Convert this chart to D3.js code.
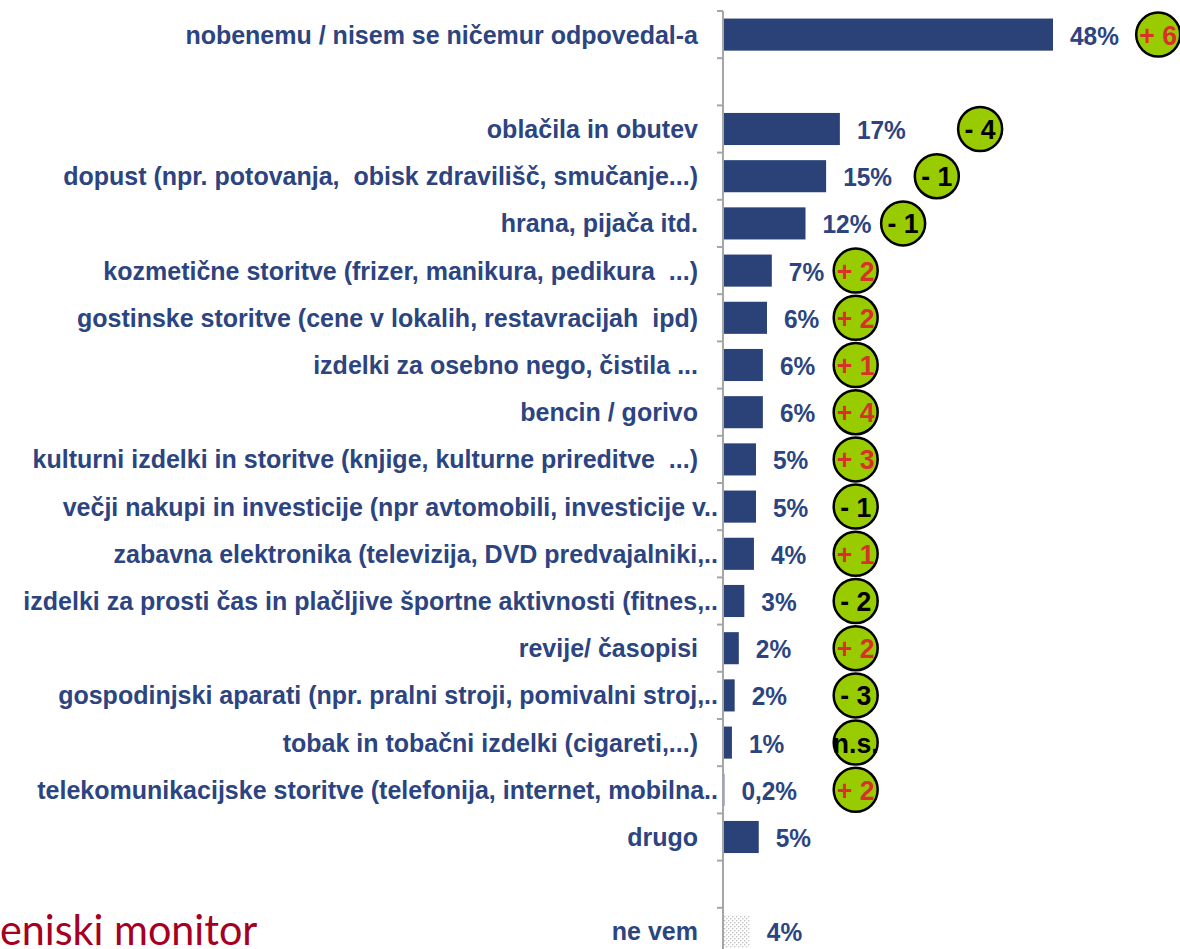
<!DOCTYPE html>
<html>
<head>
<meta charset="utf-8">
<script src="https://cdn.jsdelivr.net/npm/d3@7"></script>
<style>
html,body{margin:0;padding:0;background:#fff;overflow:hidden}
svg{display:block}
</style>
</head>
<body>
<svg id="chart" width="1180" height="949"></svg>
<script>
// rows top to bottom, empty strings are spacer rows
const categories=["nobenemu / nisem se ničemur odpovedal-a","","oblačila in obutev","dopust (npr. potovanja,  obisk zdravilišč, smučanje...)","hrana, pijača itd.","kozmetične storitve (frizer, manikura, pedikura  ...)","gostinske storitve (cene v lokalih, restavracijah  ipd)","izdelki za osebno nego, čistila ...","bencin / gorivo","kulturni izdelki in storitve (knjige, kulturne prireditve  ...)","večji nakupi in investicije (npr avtomobili, investicije v..","zabavna elektronika (televizija, DVD predvajalniki,..","izdelki za prosti čas in plačljive športne aktivnosti (fitnes,..","revije/ časopisi","gospodinjski aparati (npr. pralni stroji, pomivalni stroj,..","tobak in tobačni izdelki (cigareti,...)","telekomunikacijske storitve (telefonija, internet, mobilna..","drugo","","ne vem"];
const values=[48,null,17,15,12,7.1,6.4,5.8,5.8,4.8,4.8,4.5,3.1,2.3,1.7,1.3,0.2,5.2,null,3.9];
const valueLabels=["48%","","17%","15%","12%","7%","6%","6%","6%","5%","5%","4%","3%","2%","2%","1%","0,2%","5%","","4%"];
const changes=["+ 6",null,"- 4","- 1","- 1","+ 2","+ 2","+ 1","+ 4","+ 3","- 1","+ 1","- 2","+ 2","- 3","n.s.","+ 2",null,null,null];
// where the change bubble sits, in % units of the value axis
const changeAt=[63.3,null,37.4,31.1,26.2,19.3,19.3,19.3,19.3,19.3,19.3,19.3,19.3,19.3,19.3,19.3,19.3,null,null,null];
const noAnswer=19; // "ne vem" row drawn with a dotted fill

const svg=d3.select('#chart');
const FONT='"Liberation Sans", Arial, sans-serif';
const BLUE='#2b4279',TXT='#2c4480';

const x=d3.scaleLinear().domain([0,48]).range([723,1053]);
const y=d3.scaleBand().domain(d3.range(categories.length)).range([11,955]).paddingInner(0.32).paddingOuter(0.16);
const rows=d3.range(categories.length);
const cy=i=>y(i)+y.bandwidth()/2;

const defs=svg.append('defs');
const pat=defs.append('pattern').attr('id','dots').attr('width',4).attr('height',4).attr('patternUnits','userSpaceOnUse');
pat.append('rect').attr('width',4).attr('height',4).attr('fill','#fff');
pat.append('rect').attr('x',0).attr('y',0).attr('width',1.4).attr('height',1.4).attr('fill','#c4c4c4');
pat.append('rect').attr('x',2).attr('y',2).attr('width',1.4).attr('height',1.4).attr('fill','#c4c4c4');

// brand text bottom-left
svg.append('text').attr('transform','translate(0,945) scale(0.96,1)')
  .attr('font-family','Lato, "Open Sans", sans-serif').attr('font-size',43).attr('fill','#a50021')
  .text('eniski monitor');

// bars
svg.append('g').selectAll('rect').data(rows.filter(i=>values[i]!=null)).join('rect')
  .attr('x',x(0)).attr('y',i=>y(i)).attr('height',y.bandwidth())
  .attr('width',i=>x(values[i])-x(0))
  .attr('fill',i=>i===noAnswer?'url(#dots)':BLUE);

// axis: vertical line with ticks between rows
const ax=svg.append('g').attr('transform',`translate(${x(0)},0)`);
const bounds=d3.range(categories.length+1).map(k=>y.range()[0]+k*y.step());
ax.append('line').attr('y1',bounds[0]).attr('y2',949).attr('stroke','#a6a6a6').attr('stroke-width',2);
ax.selectAll('.tk').data(bounds).join('line').attr('class','tk')
  .attr('x1',-6).attr('x2',0).attr('y1',d=>d).attr('y2',d=>d).attr('stroke','#a6a6a6').attr('stroke-width',2);

// category labels; truncated ones ("..") run a little past the others
svg.append('g').selectAll('text').data(rows.filter(i=>categories[i])).join('text')
  .attr('x',i=>categories[i].endsWith('..')&&!categories[i].endsWith('...')?718:698).attr('y',i=>cy(i)+9)
  .attr('text-anchor','end').attr('font-family',FONT).attr('font-weight','bold').attr('font-size',25)
  .attr('fill',TXT).attr('xml:space','preserve').text(i=>categories[i]);

// value labels
svg.append('g').selectAll('text').data(rows.filter(i=>values[i]!=null)).join('text')
  .attr('transform',i=>`translate(${x(values[i])+17},${cy(i)+10}) scale(0.94,1)`)
  .attr('font-family',FONT).attr('font-weight','bold').attr('font-size',26)
  .attr('fill',TXT).text(i=>valueLabels[i]);

// change bubbles
const bub=svg.append('g').selectAll('g').data(rows.filter(i=>changes[i])).join('g')
  .attr('transform',i=>`translate(${x(changeAt[i])},${cy(i)})`);
bub.append('circle').attr('r',22).attr('fill','#99cc00').attr('stroke','#000').attr('stroke-width',2.5);
bub.append('text').attr('transform','translate(0,10) scale(0.95,1)').attr('text-anchor','middle')
  .attr('font-family',FONT).attr('font-weight','bold').attr('font-size',28)
  .attr('fill',i=>changes[i][0]==='+'?'#d8312a':'#000').text(i=>changes[i]);
</script>
</body>
</html>
